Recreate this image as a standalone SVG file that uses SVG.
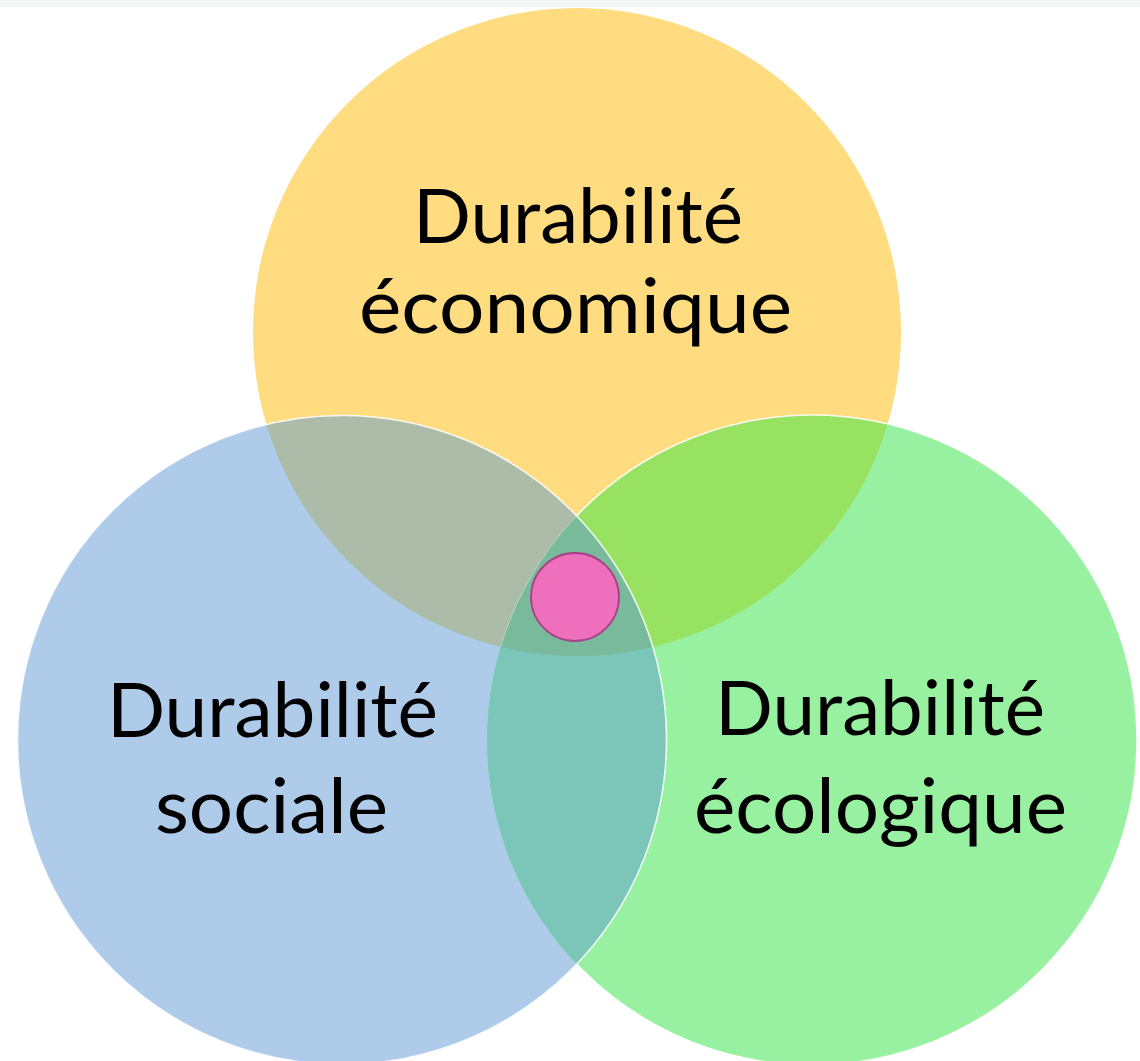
<svg xmlns="http://www.w3.org/2000/svg" width="1140" height="1061" viewBox="0 0 1140 1061">
  <style>
    .lbl { font-family: Lato, "Open Sans", "Liberation Sans", sans-serif; font-size: 76px; fill: #000; text-anchor: start; }
    .edge { fill: none; stroke: #ffffff; stroke-width: 1.6; stroke-opacity: 0.85; }
  </style>
  <defs>
    <clipPath id="clipY"><circle cx="577" cy="332" r="324"/></clipPath>
    <clipPath id="clipB"><circle cx="342" cy="740" r="324.5"/></clipPath>
    <clipPath id="notB">
      <path clip-rule="evenodd" d="M0,0 H1140 V1061 H0 Z M17.5,740 A324.5,324.5 0 1,0 666.5,740 A324.5,324.5 0 1,0 17.5,740 Z"/>
    </clipPath>
  </defs>
  <rect x="0" y="0" width="1140" height="1061" fill="#ffffff"/>
  <rect x="0" y="0" width="1140" height="7" fill="#f4f6f6"/>

  <g id="economique">
    <circle cx="577" cy="332" r="324" fill="#ffdc80"/>
  </g>
  <g id="sociale">
    <circle cx="342" cy="740" r="324.5" fill="#aecbe9"/>
  </g>
  <g id="ecologique">
    <circle cx="812" cy="740" r="325" fill="#98f1a0"/>
  </g>

  <g id="overlaps">
    <circle cx="342" cy="740" r="324.5" fill="#adbca8" clip-path="url(#clipY)"/>
    <circle cx="812" cy="740" r="325" fill="#98e262" clip-path="url(#clipY)"/>
    <circle cx="812" cy="740" r="325" fill="#7bc6b9" clip-path="url(#clipB)"/>
    <g clip-path="url(#clipY)">
      <circle cx="812" cy="740" r="325" fill="#79ba9c" clip-path="url(#clipB)"/>
    </g>
  </g>

  <g id="edges">
    <circle class="edge" cx="812" cy="740" r="325" clip-path="url(#notB)"/>
    <g clip-path="url(#clipY)">
      <circle cx="812" cy="740" r="325" fill="none" stroke="#ffffff" stroke-width="1" stroke-opacity="0.35" clip-path="url(#clipB)"/>
    </g>
    <circle class="edge" cx="342" cy="740" r="324.5"/>
  </g>

  <g id="labels">
    <text class="lbl" x="413" y="243" textLength="330" lengthAdjust="spacingAndGlyphs">Durabilité</text>
    <text class="lbl" x="359" y="333" textLength="433" lengthAdjust="spacingAndGlyphs">économique</text>
    <text class="lbl" x="107" y="737" textLength="331" lengthAdjust="spacingAndGlyphs">Durabilité</text>
    <text class="lbl" x="155" y="833" textLength="233" lengthAdjust="spacingAndGlyphs">sociale</text>
    <text class="lbl" x="715" y="735" textLength="330" lengthAdjust="spacingAndGlyphs">Durabilité</text>
    <text class="lbl" x="694" y="833" textLength="373" lengthAdjust="spacingAndGlyphs">écologique</text>
  </g>

  <g id="centre">
    <circle cx="575" cy="597" r="44" fill="#ee6fbb" stroke="#a8418a" stroke-width="1.8"/>
  </g>
</svg>
